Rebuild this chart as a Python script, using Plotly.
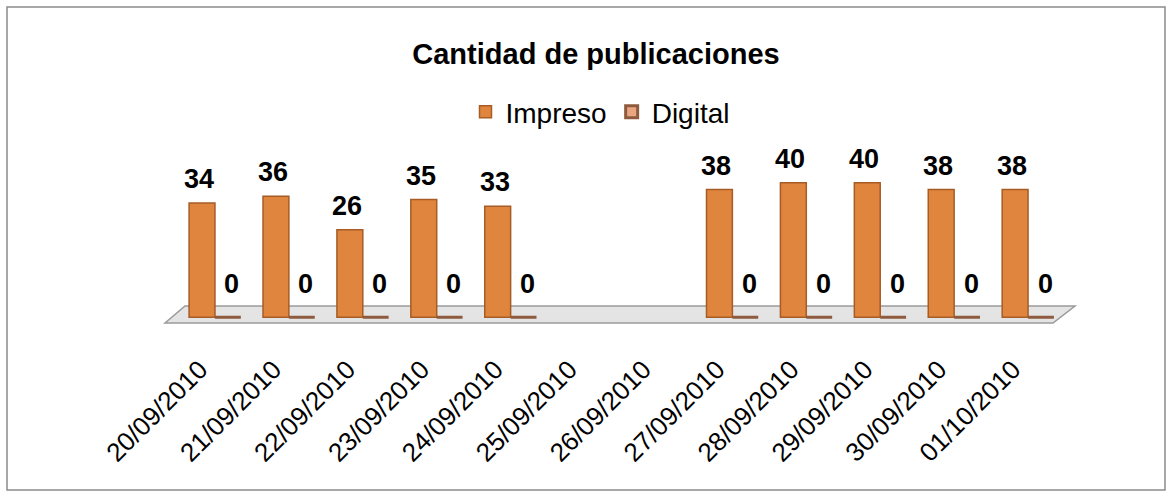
import plotly.graph_objects as go

# data
fechas = ["20/09/2010", "21/09/2010", "22/09/2010", "23/09/2010", "24/09/2010", "25/09/2010",
          "26/09/2010", "27/09/2010", "28/09/2010", "29/09/2010", "30/09/2010", "01/10/2010"]
impreso = [34, 36, 26, 35, 33, None, None, 38, 40, 40, 38, 38]
digital = [0, 0, 0, 0, 0, None, None, 0, 0, 0, 0, 0]

W, H = 1172, 498
ml, mr, mt, mb = 178, 107, 166, 174
pw, ph = W - ml - mr, H - mt - mb
ymin, ymax = -2, 45
ppu = ph / (ymax - ymin)  # pixels per unit


def px_to_paper_x(px):
    return (px - ml) / pw


def px_to_paper_y(py):
    return (H - mb - py) / ph


def px_to_data_y(py):
    base = H - mb + ymin * ppu
    return (base - py) / ppu


fig = go.Figure()
fig.add_trace(go.Bar(x=fechas, y=impreso, name="Impreso",
                     marker=dict(color="#E0853D", line=dict(color="#A65C24", width=1.5))))
fig.add_trace(go.Bar(x=fechas, y=digital, name="Digital",
                     marker=dict(color="#E9A680", line=dict(color="#8E5B3E", width=3))))

ann = []
for f, v in zip(fechas, impreso):
    if v is not None:
        ann.append(dict(x=f, y=v, text=f"<b>{v}</b>", showarrow=False, yanchor="bottom",
                        xshift=-16, yshift=7, font=dict(size=27, color="black")))
for f, v in zip(fechas, digital):
    if v is not None:
        ann.append(dict(x=f, y=v, text=f"<b>{v}</b>", showarrow=False, yanchor="bottom",
                        xshift=17, yshift=16, font=dict(size=27, color="black")))

# floor of the 3D-like chart
x0, x1, x2, x3 = [px_to_paper_x(p) for p in (165, 185, 1075, 1053)]
yb, yt = px_to_data_y(323), px_to_data_y(306)
floor = dict(type="path", xref="paper", yref="y", layer="below",
             path=f"M {x0},{yb} L {x1},{yt} L {x2},{yt} L {x3},{yb} Z",
             fillcolor="#E4E4E4", line=dict(color="#9A9A9A", width=1.5))
border = dict(type="rect", xref="paper", yref="paper",
              x0=px_to_paper_x(7), x1=px_to_paper_x(1165),
              y0=px_to_paper_y(490), y1=px_to_paper_y(7),
              line=dict(color="#8C8C8C", width=1.5))

fig.update_layout(
    width=W, height=H,
    margin=dict(l=ml, r=mr, t=mt, b=mb),
    paper_bgcolor="white", plot_bgcolor="white",
    font=dict(family="Liberation Sans, Arial, sans-serif", color="black"),
    title=dict(text="<b>Cantidad de publicaciones</b>", x=596 / W, xanchor="center",
               y=1 - 54 / H, yanchor="middle", font=dict(size=29, color="black")),
    legend=dict(orientation="h", x=px_to_paper_x(600), xanchor="center",
                y=px_to_paper_y(112), yanchor="middle", font=dict(size=28),
                itemwidth=30, traceorder="normal"),
    barmode="group", bargap=0.3, bargroupgap=0,
    xaxis=dict(type="category", tickangle=-45, showgrid=False, showline=False,
               ticks="", tickfont=dict(size=26), ticklabelshift=-15, ticklabelstandoff=24),
    yaxis=dict(range=[ymin, ymax], visible=False),
    shapes=[floor, border],
    annotations=ann,
)

fig.write_html("out.html", config={"displayModeBar": False},
               post_script="document.body.style.margin='0';")
